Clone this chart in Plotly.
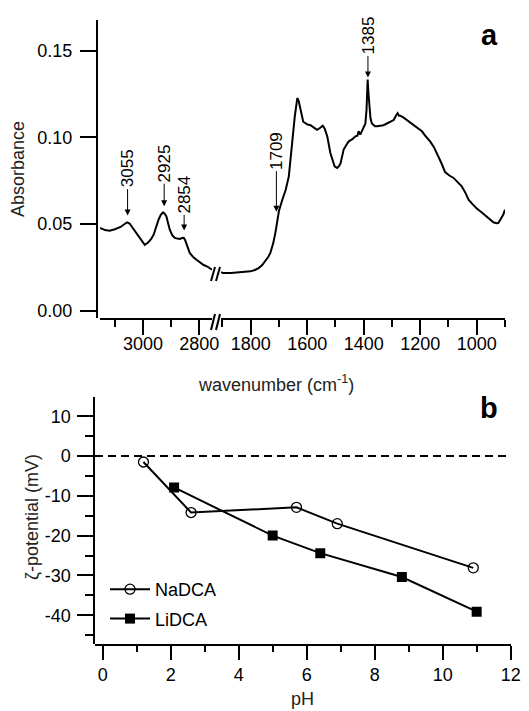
import numpy as np
import plotly.graph_objects as go

W, H = 529, 711

# ---------------- Panel a: IR spectrum (broken wavenumber axis) ----------------
wn_hi = [3153, 3135, 3119, 3100, 3080, 3065, 3057, 3048, 3041, 3030, 3017, 3005,
         2994, 2983, 2971, 2962, 2953, 2945, 2937, 2929, 2923, 2917, 2911, 2905,
         2896, 2887, 2878, 2869, 2860, 2855, 2850, 2846, 2840, 2834, 2822, 2810,
         2798, 2786, 2772, 2760, 2755]
abs_hi = [0.0477, 0.0465, 0.0462, 0.0470, 0.0483, 0.0502, 0.0510, 0.0503, 0.0487,
          0.0458, 0.0429, 0.0398, 0.0380, 0.0392, 0.0414, 0.0440, 0.0487, 0.0525,
          0.0553, 0.0567, 0.0560, 0.0544, 0.0505, 0.0467, 0.0435, 0.0420, 0.0416,
          0.0414, 0.0421, 0.0420, 0.0405, 0.0390, 0.0360, 0.0333, 0.0310, 0.0294,
          0.0280, 0.0265, 0.0255, 0.0242, 0.0237]

wn_lo = [1905, 1897, 1870, 1837, 1801, 1785, 1772, 1760, 1748, 1738, 1730, 1720,
         1712, 1700, 1688, 1676, 1665, 1659, 1653, 1644, 1638, 1635, 1630, 1624,
         1614, 1600, 1588, 1575, 1565, 1555, 1545, 1538, 1529, 1518, 1510, 1503,
         1494, 1487, 1482, 1471, 1462, 1453, 1440, 1429, 1422, 1418, 1412, 1406,
         1400, 1394, 1390, 1386, 1383, 1380, 1376, 1371, 1360, 1353, 1340, 1330,
         1318, 1305, 1294, 1286, 1280, 1275, 1271, 1260, 1247, 1235, 1224, 1210,
         1194, 1180, 1165, 1152, 1141, 1126, 1112, 1097, 1082, 1068, 1053, 1040,
         1029, 1015, 1000, 982, 965, 950, 941, 930, 924, 918, 912, 906, 900]
abs_lo = [0.0222, 0.0217, 0.0218, 0.0221, 0.0227, 0.0235, 0.0246, 0.0262, 0.0285,
          0.0310, 0.0335, 0.0390, 0.0455, 0.0575, 0.0640, 0.0698, 0.0775, 0.0870,
          0.1006, 0.1120, 0.1190, 0.1227, 0.1210, 0.1160, 0.1090, 0.1075, 0.1070,
          0.1055, 0.1044, 0.1054, 0.1067, 0.1050, 0.1006, 0.0910, 0.0860, 0.0833,
          0.0823, 0.0835, 0.0850, 0.0930, 0.0955, 0.0977, 0.0990, 0.1006, 0.1010,
          0.1035, 0.1016, 0.1035, 0.1054, 0.1080, 0.1160, 0.1333, 0.1250, 0.1160,
          0.1110, 0.1080, 0.1064, 0.1064, 0.1066, 0.1070, 0.1080, 0.1090, 0.1100,
          0.1125, 0.1140, 0.1125, 0.1125, 0.1115, 0.1100, 0.1085, 0.1070, 0.1055,
          0.1035, 0.1005, 0.0977, 0.0945, 0.0910, 0.0855, 0.0800, 0.0780, 0.0766,
          0.0745, 0.0717, 0.0680, 0.0640, 0.0615, 0.0590, 0.0567, 0.0544, 0.0520,
          0.0510, 0.0505, 0.0506, 0.0520, 0.0535, 0.0555, 0.0583]

peak_wn = [3055, 2925, 2854, 1709, 1385]
peak_labels = ["3055", "2925", "2854", "1709", "1385"]

abs_tickvals = [0.00, 0.05, 0.10, 0.15]
abs_ticktext = ["0.00", "0.05", "0.10", "0.15"]
wn_hi_tickvals = [3000, 2800]
wn_lo_tickvals = [1800, 1600, 1400, 1200, 1000]

# ---------------- Panel b: zeta potential vs pH ----------------
ph_na = [1.2, 2.6, 5.7, 6.9, 10.9]
zeta_na = [-1.5, -14.2, -12.9, -17.0, -28.1]
ph_li = [2.1, 5.0, 6.4, 8.8, 11.0]
zeta_li = [-7.9, -20.0, -24.4, -30.4, -39.1]

zeta_tickvals = [10, 0, -10, -20, -30, -40]
zeta_ticktext = ["10", "0", "-10", "-20", "-30", "-40"]
ph_tickvals = [0, 2, 4, 6, 8, 10, 12]


def fx(px):
    return px / W


def fy(py):
    return 1 - py / H


FONT = "Liberation Sans, Arial, sans-serif"
BLACK = "#000000"

fig = go.Figure()

fig.add_trace(go.Scatter(x=wn_hi, y=abs_hi, xaxis="x", yaxis="y", mode="lines",
                         line=dict(color=BLACK, width=2), showlegend=False))
fig.add_trace(go.Scatter(x=wn_lo, y=abs_lo, xaxis="x2", yaxis="y", mode="lines",
                         line=dict(color=BLACK, width=2), showlegend=False))

fig.add_trace(go.Scatter(x=ph_na, y=zeta_na, xaxis="x3", yaxis="y2",
                         mode="lines+markers", name="NaDCA", legendgroup="na",
                         line=dict(color=BLACK, width=2),
                         marker=dict(symbol="circle-open", size=10, color=BLACK,
                                     line=dict(width=1.3, color=BLACK))))
fig.add_trace(go.Scatter(x=ph_li, y=zeta_li, xaxis="x3", yaxis="y2",
                         mode="lines+markers", name="LiDCA", legendgroup="li",
                         line=dict(color=BLACK, width=2),
                         marker=dict(symbol="square", size=10, color=BLACK)))

tickfont = dict(family=FONT, size=18, color=BLACK)
common = dict(showline=True, linewidth=2, linecolor=BLACK, ticks="outside",
              tickwidth=2, tickcolor=BLACK, showgrid=False, zeroline=False,
              tickfont=tickfont, automargin=False)

fig.update_layout(
    width=W, height=H,
    margin=dict(l=0, r=0, t=0, b=0),
    template="none",
    paper_bgcolor="white", plot_bgcolor="white",
    font=dict(family=FONT, size=18, color=BLACK),
    xaxis=dict(domain=[fx(100), fx(212)], range=[3153, 2755], anchor="y",
               tickvals=wn_hi_tickvals, ticklen=15, ticklabelstandoff=-7,
               minor=dict(dtick=100, ticklen=7, tickwidth=2, ticks="outside",
                          tickcolor=BLACK),
               **common),
    xaxis2=dict(domain=[fx(221), fx(505)], range=[1905, 900], anchor="y",
                tickvals=wn_lo_tickvals, ticklen=15, ticklabelstandoff=-7,
                minor=dict(dtick=100, ticklen=7, tickwidth=2, ticks="outside",
                           tickcolor=BLACK),
                **common),
    yaxis=dict(domain=[fy(318), fy(20)], range=[-0.0042, 0.1677],
               anchor="free", position=fx(97),
               tickvals=abs_tickvals, ticktext=abs_ticktext, ticklen=16,
               ticklabelstandoff=4,
               **common),
    xaxis3=dict(domain=[fx(95), fx(511)], range=[-0.226, 12.01], anchor="y2",
                tickvals=ph_tickvals, ticklen=14,
                minor=dict(dtick=1, ticklen=6, tickwidth=2, ticks="outside",
                           tickcolor=BLACK),
                **common),
    yaxis2=dict(domain=[fy(643.5), fy(396.7)], range=[-47.1, 14.9],
                anchor="free", position=fx(94.3),
                tickvals=zeta_tickvals, ticktext=zeta_ticktext, ticklen=16,
                ticklabelstandoff=3,
                minor=dict(dtick=5, ticklen=8, tickwidth=2, ticks="outside",
                           tickcolor=BLACK),
                **common),
    legend=dict(x=fx(105), y=fy(571), xanchor="left", yanchor="top",
                bgcolor="rgba(0,0,0,0)", font=dict(family=FONT, size=18, color=BLACK),
                tracegroupgap=3, itemwidth=40),
    showlegend=True,
)

# zero reference line in panel b
fig.add_shape(type="line", xref="x3 domain", yref="y2", x0=0, x1=1, y0=0, y1=0,
              line=dict(color=BLACK, width=2, dash="8px,5px"))

# axis-break marks on panel a
for (x0, y0, x1, y1) in [(211, 330, 215, 314), (216, 330, 220, 314),
                         (211, 281, 215, 267), (216, 281, 220, 267)]:
    fig.add_shape(type="line", xref="paper", yref="paper",
                  x0=fx(x0), y0=fy(y0), x1=fx(x1), y1=fy(y1),
                  line=dict(color=BLACK, width=2))

# peak annotations
peak_ay = [-54, -50, -44, -76, -49]
peak_standoff = [7, 7, 8, 15, 7]
for wn, lab, ay, so in zip(peak_wn, peak_labels, peak_ay, peak_standoff):
    if wn > 2000:
        ya = float(np.interp(wn, wn_hi[::-1], abs_hi[::-1]))
        xr = "x"
    else:
        ya = float(np.interp(wn, wn_lo[::-1], abs_lo[::-1]))
        xr = "x2"
    fig.add_annotation(x=wn, y=ya, xref=xr, yref="y", text=lab, textangle=-90,
                       showarrow=True, ax=0, ay=ay, arrowhead=2, arrowsize=1.2,
                       arrowwidth=1, arrowcolor=BLACK, standoff=so,
                       font=dict(family=FONT, size=17, color=BLACK))


def paper_text(px, py, text, size=18, color="#222", angle=0):
    fig.add_annotation(x=fx(px), y=fy(py), xref="paper", yref="paper",
                       xanchor="center", yanchor="middle", text=text,
                       textangle=angle, showarrow=False,
                       font=dict(family=FONT, size=size, color=color))


# axis titles
paper_text(18, 169, "Absorbance", angle=-90)
paper_text(276, 383, "wavenumber (cm<sup>-1</sup>)")
paper_text(32, 517, "ζ-potential (mV)", angle=-90)
paper_text(302, 699, "pH")

# panel letters
paper_text(489, 35, "<b>a</b>", size=29, color=BLACK)
paper_text(489, 408, "<b>b</b>", size=29, color=BLACK)

fig.write_html("out.html", config={"displayModeBar": False},
               post_script="document.body.style.margin='0';"
                           "document.body.style.overflow='hidden';")
